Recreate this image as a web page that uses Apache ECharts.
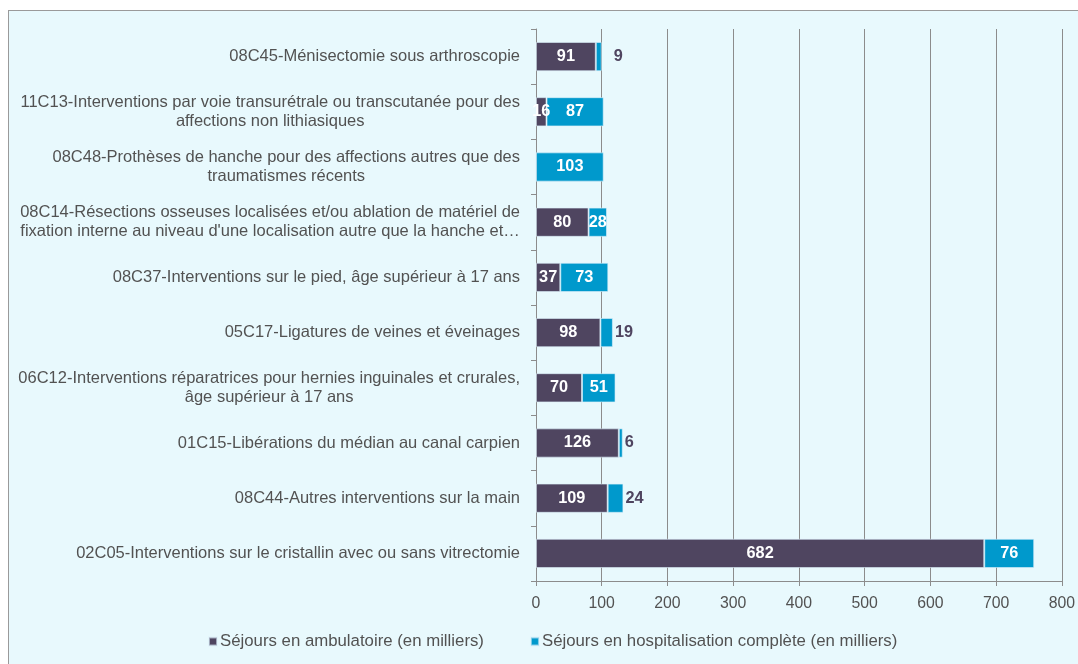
<!DOCTYPE html>
<html><head><meta charset="utf-8">
<script src="https://cdn.jsdelivr.net/npm/echarts@6/dist/echarts.min.js"></script>
<style>
html,body{margin:0;padding:0;width:1078px;height:664px;overflow:hidden;background:#fff;}
#frame{position:absolute;left:8px;top:10px;width:1090px;height:680px;border:1px solid #9a9a9a;background:#E8F9FD;}
#c{position:absolute;left:0;top:0;width:1078px;height:664px;}
</style></head>
<body><div id="frame"></div><div id="c"></div>
<script>
const categories = [
  "08C45-Ménisectomie sous arthroscopie",
  "11C13-Interventions par voie transurétrale ou transcutanée pour des\naffections non lithiasiques",
  "08C48-Prothèses de hanche pour des affections autres que des\ntraumatismes récents",
  "08C14-Résections osseuses localisées et/ou ablation de matériel de\nfixation interne au niveau d'une localisation autre que la hanche et…",
  "08C37-Interventions sur le pied, âge supérieur à 17 ans",
  "05C17-Ligatures de veines et éveinages",
  "06C12-Interventions réparatrices pour hernies inguinales et crurales,\nâge supérieur à 17 ans",
  "01C15-Libérations du médian au canal carpien",
  "08C44-Autres interventions sur la main",
  "02C05-Interventions sur le cristallin avec ou sans vitrectomie"
];
const ambulatoire = [91, 16, 0, 80, 37, 98, 70, 126, 109, 682];
const hospitalisation = [9, 87, 103, 28, 73, 19, 51, 6, 24, 76];
const seriesNames = ["Séjours en ambulatoire (en milliers)", "Séjours en hospitalisation complète (en milliers)"];
const xTicks = [0, 100, 200, 300, 400, 500, 600, 700, 800];

const txt = '#525252';
const ff = 'Liberation Sans, Arial, sans-serif';
const chart = echarts.init(document.getElementById('c'));
const hospData = hospitalisation.map(v => {
  if (v < 25) {
    return {value: v, label: {position: 'right', color: '#4F4560', distance: v < 10 && v > 6 ? 12 : 2}};
  }
  return v;
});
chart.setOption({
  backgroundColor: 'transparent',
  animation: false,
  textStyle: {fontFamily: ff},
  grid: {left: 536, right: 15, top: 29, bottom: 83, containLabel: false},
  legend: {
    top: 628, left: 203, itemWidth: 8, itemHeight: 8, itemGap: 46,
    icon: 'rect',
    textStyle: {color: txt, fontSize: 16.8, fontFamily: ff, padding: [0,0,0,-2]},
    data: seriesNames
  },
  xAxis: {
    type: 'value', min: xTicks[0], max: xTicks[xTicks.length-1], interval: 100,
    axisLine: {show: true, lineStyle: {color: '#8c8c8c'}},
    axisTick: {show: true, length: 5, lineStyle: {color: '#8c8c8c'}},
    axisLabel: {color: txt, fontSize: 15.8, margin: 15, fontFamily: ff},
    splitLine: {show: true, lineStyle: {color: '#8c8c8c', width: 1}}
  },
  yAxis: {
    type: 'category', inverse: true, data: categories,
    axisLine: {show: true, lineStyle: {color: '#8c8c8c'}},
    axisTick: {show: true, length: 5, lineStyle: {color: '#8c8c8c'}},
    axisLabel: {
      color: txt, fontSize: 16.5, margin: 16, lineHeight: 19, fontFamily: ff,
      formatter: v => v.split('\n').map(s => '{c|' + s + '}').join('\n'),
      rich: {c: {align: 'center', color: txt, fontSize: 16.5, lineHeight: 19, fontFamily: ff}}
    }
  },
  series: [
    {
      name: seriesNames[0], type: 'bar', stack: 's', barWidth: '53%',
      itemStyle: {color: '#4F4560', borderColor: 'rgba(220,240,250,0.6)', borderWidth: 1},
      label: {show: true, position: 'inside', color: '#fff', fontSize: 16.3, fontWeight: 'bold', fontFamily: ff,
        formatter: p => p.value === 0 ? '' : p.value},
      data: ambulatoire
    },
    {
      name: seriesNames[1], type: 'bar', stack: 's', barWidth: '53%',
      itemStyle: {color: '#0099CC', borderColor: 'rgba(220,240,250,0.6)', borderWidth: 1},
      label: {show: true, position: 'inside', color: '#fff', fontSize: 16.3, fontWeight: 'bold', fontFamily: ff},
      data: hospData
    }
  ]
});
</script>
</body></html>
